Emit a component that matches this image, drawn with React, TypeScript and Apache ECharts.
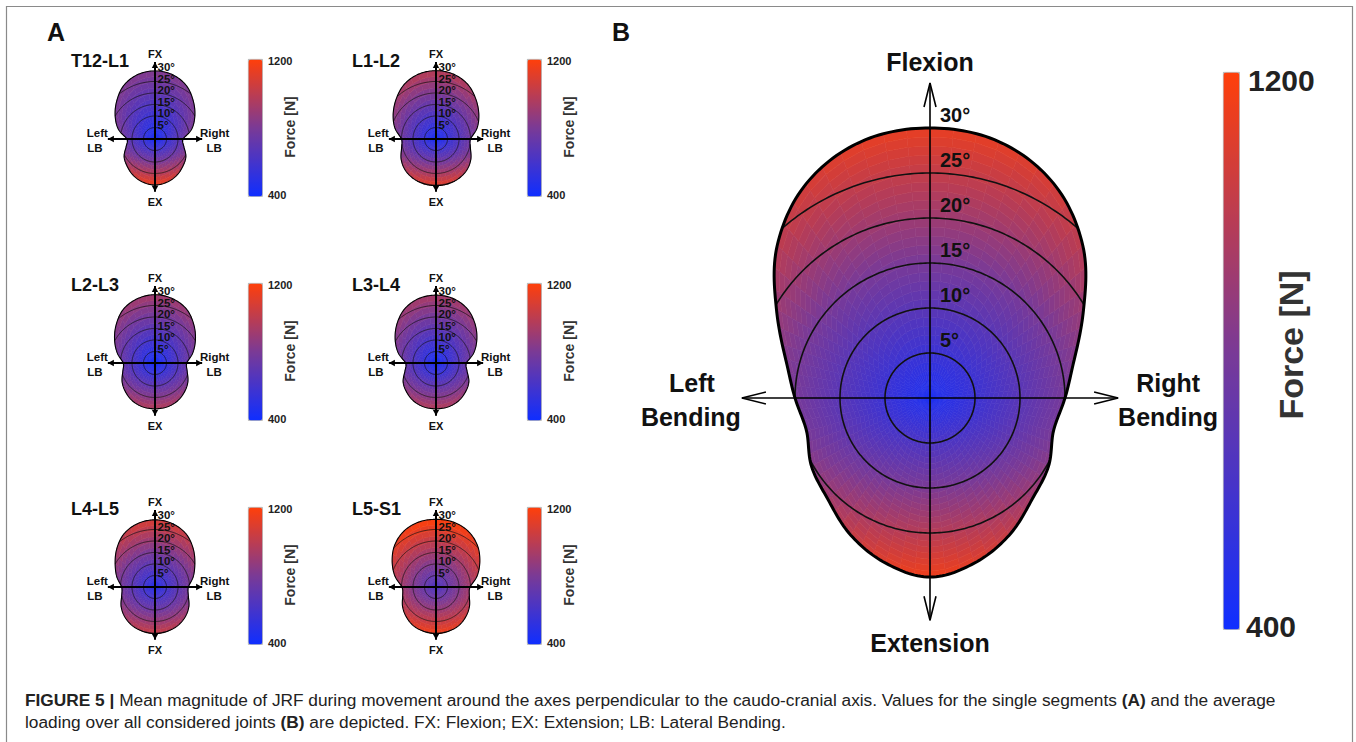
import React, { useEffect, useRef } from "react";
import * as echarts from "echarts";

// ---------------- data ----------------
const SEGMENTS = ["T12-L1", "L1-L2", "L2-L3", "L3-L4", "L4-L5", "L5-S1"];
const SEGMENT_BOTTOM_LABELS = ["EX", "EX", "EX", "EX", "FX", "FX"];
const DEGREE_TICKS = [5, 10, 15, 20, 25, 30];
const FORCE_MIN = 400;
const FORCE_MAX = 1200;
const COLORBAR_TICKS = ["1200", "400"];

// range of motion boundary (degrees) sampled at these elevation angles (90 = flexion, 0 = lateral bending, -90 = extension)
const BOUNDARY_ANGLES = [90, 75, 60, 45, 30, 15, 0, -15, -30, -45, -60, -75, -90];
const ROM_T12_L1 = [29.6, 29.0, 27.0, 23.5, 20.0, 16.5, 12.2, 13.0, 15.5, 17.0, 18.5, 19.5, 20.0];
const ROM_L1_L2 = [29.7, 29.2, 27.5, 24.5, 21.5, 18.5, 15.0, 15.5, 17.5, 19.0, 19.8, 20.2, 20.3];
const ROM_L2_L3 = [29.7, 29.0, 27.2, 23.8, 20.3, 17.0, 13.8, 14.5, 16.5, 18.0, 19.2, 19.8, 19.9];
const ROM_L3_L4 = [29.5, 29.0, 27.2, 24.0, 20.5, 17.0, 13.2, 14.0, 16.5, 18.0, 19.2, 19.8, 19.9];
const ROM_L4_L5 = [29.2, 28.6, 26.8, 23.5, 20.0, 17.2, 14.5, 15.0, 17.0, 18.5, 19.5, 20.0, 20.3];
const ROM_L5_S1 = [29.4, 29.2, 28.0, 25.5, 22.0, 18.5, 14.8, 15.0, 16.8, 18.3, 19.5, 20.0, 20.3];
const ROM_AVERAGE = [30.0, 29.5, 27.5, 24.0, 19.7, 16.6, 15.0, 14.2, 15.2, 16.0, 17.6, 19.0, 19.9];
const SEGMENT_ROMS = [ROM_T12_L1, ROM_L1_L2, ROM_L2_L3, ROM_L3_L4, ROM_L4_L5, ROM_L5_S1];

// joint reaction force (N): neutral, at max flexion, at max lateral bending, at max extension
const FORCE_NEUTRAL = [440, 440, 430, 440, 490, 630];
const FORCE_FLEXION = [830, 990, 930, 940, 1080, 1200];
const FORCE_LATERAL = [720, 760, 720, 720, 780, 920];
const FORCE_EXTENSION = [1150, 1110, 970, 970, 1030, 1160];
const AVERAGE_NEUTRAL_FLEX_LAT_EXT = [455, 1130, 790, 1150];

const COLOR_STOPS = ["#0f2eff", "#7a3a96", "#ff3f0a"];

// ---------------- helpers ----------------
const FONT = "'Liberation Sans', Arial, Helvetica, sans-serif";
const D2R = Math.PI / 180;

function elev(phi: number) {
  return Math.asin(Math.max(-1, Math.min(1, Math.sin(phi * D2R)))) / D2R;
}

function romAt(table: number[], e: number) {
  const n = table.length - 1;
  const step = 180 / n;
  let t = (90 - e) / step;
  let i = Math.floor(t);
  if (i >= n) i = n - 1;
  if (i < 0) i = 0;
  const f = t - i;
  const g = (k: number) => (k < 0 ? table[-k] : k > n ? table[2 * n - k] : table[k]);
  const p0 = g(i - 1), p1 = g(i), p2 = g(i + 1), p3 = g(i + 2);
  return 0.5 * (2 * p1 + (-p0 + p2) * f + (2 * p0 - 5 * p1 + 4 * p2 - p3) * f * f + (-p0 + 3 * p1 - 3 * p2 + p3) * f * f * f);
}

type Plot = {
  title?: string;
  bottomLabel: string;
  big: boolean;
  cx: number;
  cy: number;
  scale: number;
  rom: number[];
  f0: number;
  fFlex: number;
  fLat: number;
  fExt: number;
  nr: number;
  np: number;
  bar: { left: number; top: number; width: number; height: number };
};

function forceAt(p: Plot, r: number, e: number) {
  const s = Math.sin(e * D2R);
  const w = s * s;
  const rLat = p.rom[6];
  const fd = e >= 0 ? p.fLat * (1 - w) + p.fFlex * w : p.fLat * (1 - w) + p.fExt * w;
  const rd = e >= 0 ? rLat * (1 - w) + p.rom[0] * w : rLat * (1 - w) + p.rom[p.rom.length - 1] * w;
  const v = p.f0 + (fd - p.f0) * Math.pow(Math.max(0, r / rd), 1.0);
  return Math.max(FORCE_MIN, Math.min(FORCE_MAX, v));
}

function buildPlots(): Plot[] {
  const cols = [155, 436];
  const rows = [139, 363, 587];
  const barLeft = [248, 527];
  const barTop = [59, 283, 507];
  const plots: Plot[] = SEGMENTS.map((name, k) => {
    const col = k % 2;
    const row = Math.floor(k / 2);
    return {
      title: name,
      bottomLabel: SEGMENT_BOTTOM_LABELS[k],
      big: false,
      cx: cols[col],
      cy: rows[row],
      scale: 2.3,
      rom: SEGMENT_ROMS[k],
      f0: FORCE_NEUTRAL[k],
      fFlex: FORCE_FLEXION[k],
      fLat: FORCE_LATERAL[k],
      fExt: FORCE_EXTENSION[k],
      nr: 12,
      np: 48,
      bar: { left: barLeft[col], top: barTop[row], width: 14, height: 137 },
    };
  });
  plots.push({
    bottomLabel: "Extension",
    big: true,
    cx: 930,
    cy: 398,
    scale: 9,
    rom: ROM_AVERAGE,
    f0: AVERAGE_NEUTRAL_FLEX_LAT_EXT[0],
    fFlex: AVERAGE_NEUTRAL_FLEX_LAT_EXT[1],
    fLat: AVERAGE_NEUTRAL_FLEX_LAT_EXT[2],
    fExt: AVERAGE_NEUTRAL_FLEX_LAT_EXT[3],
    nr: 30,
    np: 72,
    bar: { left: 1223, top: 72, width: 16, height: 557 },
  });
  return plots;
}

function cellData(p: Plot) {
  const out: number[][] = [];
  for (let i = 0; i < p.nr; i++) {
    for (let j = 0; j < p.np; j++) {
      const u = (i + 0.5) / p.nr;
      const phi = ((j + 0.5) * 360) / p.np;
      const e = elev(phi);
      const r = u * romAt(p.rom, e);
      out.push([i, j, forceAt(p, r, e)]);
    }
  }
  return out;
}

function cellRender(p: Plot) {
  return (params: any, api: any) => {
    const i = api.value(0);
    const j = api.value(1);
    const u0 = i / p.nr, u1 = (i + 1) / p.nr;
    const a0 = (j * 360) / p.np, a1 = ((j + 1) * 360) / p.np;
    const pt = (u: number, a: number) => {
      const r = u * romAt(p.rom, elev(a));
      return api.coord([r * Math.cos(a * D2R), r * Math.sin(a * D2R)]);
    };
    const pts = i === 0 ? [pt(0, 0), pt(u1, a0), pt(u1, a1)] : [pt(u0, a0), pt(u1, a0), pt(u1, a1), pt(u0, a1)];
    const c = api.visual("color");
    return { type: "polygon", silent: true, shape: { points: pts }, style: { fill: c, stroke: c, lineWidth: 0.6 } };
  };
}

function contourRender(p: Plot) {
  return (params: any, api: any) => {
    const R = api.value(0);
    const children: any[] = [];
    let seg: number[][] = [];
    const lw = p.big ? 1.6 : 0.7;
    const flush = () => {
      if (seg.length > 1) children.push({ type: "polyline", silent: true, shape: { points: seg }, style: { stroke: "#111", lineWidth: lw, fill: "none" } });
      seg = [];
    };
    for (let a = -90; a <= 270; a += 1) {
      const b = romAt(p.rom, elev(a));
      if (R <= b + 0.05) seg.push(api.coord([R * Math.cos(a * D2R), R * Math.sin(a * D2R)]));
      else flush();
    }
    flush();
    const c = api.coord([0, R]);
    children.push({
      type: "text",
      silent: true,
      x: c[0] + (p.big ? 10 : 2.5),
      y: c[1] + (p.big ? -13 : -3),
      style: { text: R + "°", fill: "#111", font: `bold ${p.big ? 20 : 11.5}px ${FONT}`, align: "left", verticalAlign: "middle" },
    });
    return { type: "group", children };
  };
}

function outlineRender(p: Plot) {
  return (params: any, api: any) => {
    const pts: number[][] = [];
    for (let a = 0; a < 360; a += 1) {
      const r = romAt(p.rom, elev(a));
      pts.push(api.coord([r * Math.cos(a * D2R), r * Math.sin(a * D2R)]));
    }
    return { type: "polygon", silent: true, shape: { points: pts }, style: { fill: "none", stroke: "#000", lineWidth: p.big ? 3 : 1.1 } };
  };
}

function axesRender(p: Plot) {
  return (params: any, api: any) => {
    const X = p.big ? 20.9 : 20.5;
    const TOP = p.big ? 35 : 33.5;
    const BOT = p.big ? 24.7 : 22.9;
    const L = api.coord([-X, 0]), R = api.coord([X, 0]), T = api.coord([0, TOP]), B = api.coord([0, -BOT]);
    const lw = p.big ? 1.6 : 2;
    const children: any[] = [];
    const ln = (a: number[], b: number[]) => ({ type: "line", silent: true, shape: { x1: a[0], y1: a[1], x2: b[0], y2: b[1] }, style: { stroke: "#000", lineWidth: lw } });
    children.push(ln(L, R), ln(B, T));
    const head = (tip: number[], dx: number, dy: number) => {
      const h = p.big ? 24 : 6;
      const w = p.big ? 6 : 3.2;
      const bx = tip[0] - dx * h, by = tip[1] - dy * h;
      const nx = -dy, ny = dx;
      const p1 = [bx + nx * w, by + ny * w], p2 = [bx - nx * w, by - ny * w];
      if (p.big) return { type: "polyline", silent: true, shape: { points: [p1, tip, p2] }, style: { stroke: "#000", lineWidth: 1.6, fill: "none" } };
      return { type: "polygon", silent: true, shape: { points: [p1, tip, p2] }, style: { fill: "#000" } };
    };
    children.push(head(L, -1, 0), head(R, 1, 0), head(T, 0, -1), head(B, 0, 1));
    const txt = (s: string, x: number, y: number, size: number) => ({
      type: "text",
      silent: true,
      x,
      y,
      style: { text: s, fill: "#111", font: `bold ${size}px ${FONT}`, align: "center", verticalAlign: "middle" },
    });
    if (p.big) {
      children.push(txt("Flexion", T[0], T[1] - 21, 25));
      children.push(txt(p.bottomLabel, B[0], B[1] + 23, 25));
      children.push(txt("Left", L[0] - 50, L[1] - 15, 25));
      children.push(txt("Bending", L[0] - 51, L[1] + 19, 25));
      children.push(txt("Right", R[0] + 50, R[1] - 15, 25));
      children.push(txt("Bending", R[0] + 50, R[1] + 19, 25));
    } else {
      children.push(txt("FX", T[0], T[1] - 7.5, 11));
      children.push(txt(p.bottomLabel, B[0], B[1] + 10.5, 11));
      children.push(txt("Left", L[0] - 10.5, L[1] - 5.7, 11.5));
      children.push(txt("LB", L[0] - 13, L[1] + 8.7, 11.5));
      children.push(txt("Right", R[0] + 12.5, R[1] - 5.7, 11.5));
      children.push(txt("LB", R[0] + 12, R[1] + 8.7, 11.5));
    }
    return { type: "group", children };
  };
}

function buildOption() {
  const plots = buildPlots();
  const grid: any[] = [];
  const xAxis: any[] = [];
  const yAxis: any[] = [];
  const series: any[] = [];
  const visualMap: any[] = [];
  const graphic: any[] = [];

  plots.forEach((p, k) => {
    grid.push({ left: p.cx - 24 * p.scale, top: p.cy - 36 * p.scale, width: 48 * p.scale, height: 62 * p.scale, show: false });
    xAxis.push({ type: "value", gridIndex: k, min: -24, max: 24, show: false });
    yAxis.push({ type: "value", gridIndex: k, min: -26, max: 36, show: false });
    const cellIdx = series.length;
    series.push({ type: "custom", xAxisIndex: k, yAxisIndex: k, z: 1, silent: true, renderItem: cellRender(p), data: cellData(p), clip: false });
    series.push({ type: "custom", xAxisIndex: k, yAxisIndex: k, z: 2, silent: true, renderItem: contourRender(p), data: DEGREE_TICKS.map((d) => [d]), clip: false });
    series.push({ type: "custom", xAxisIndex: k, yAxisIndex: k, z: 3, silent: true, renderItem: outlineRender(p), data: [[0]], clip: false });
    series.push({ type: "custom", xAxisIndex: k, yAxisIndex: k, z: 4, silent: true, renderItem: axesRender(p), data: [[0]], clip: false });
    visualMap.push({
      type: "continuous",
      min: FORCE_MIN,
      max: FORCE_MAX,
      dimension: 2,
      seriesIndex: cellIdx,
      calculable: false,
      hoverLink: false,
      orient: "vertical",
      left: p.bar.left,
      top: p.bar.top,
      itemWidth: p.bar.width,
      itemHeight: p.bar.height,
      padding: 0,
      borderColor: "#a0a0a0",
      borderWidth: 0.8,
      inRange: { color: COLOR_STOPS },
    });
    const b = p.bar;
    const big = p.big;
    const tickSize = big ? 30 : 11;
    graphic.push({ type: "text", silent: true, x: b.left + b.width + (big ? 9 : 6), y: b.top + (big ? 8 : 2), style: { text: COLORBAR_TICKS[0], font: `bold ${tickSize}px ${FONT}`, fill: "#222", align: "left", verticalAlign: "middle" } });
    graphic.push({ type: "text", silent: true, x: b.left + b.width + (big ? 7 : 6), y: b.top + b.height + (big ? -3 : -1), style: { text: COLORBAR_TICKS[1], font: `bold ${tickSize}px ${FONT}`, fill: "#222", align: "left", verticalAlign: "middle" } });
    graphic.push({
      type: "text",
      silent: true,
      x: b.left + b.width + (big ? 52 : 27.5),
      y: big ? 345 : b.top + 68,
      rotation: Math.PI / 2,
      style: { text: "Force [N]", font: `bold ${big ? 34 : 14}px ${FONT}`, fill: "#333", align: "center", verticalAlign: "middle" },
    });
    if (p.title) {
      graphic.push({ type: "text", silent: true, x: p.cx - 84, y: p.cy - 78.5, style: { text: p.title, font: `bold 18px ${FONT}`, fill: "#111", align: "left", verticalAlign: "middle" } });
    }
  });

  graphic.unshift({ type: "rect", silent: true, shape: { x: 6.5, y: 6.5, width: 1346, height: 800 }, style: { fill: "#fff", stroke: "#8a8a8a", lineWidth: 1.2 }, z: -10 });
  graphic.push({ type: "text", silent: true, x: 56, y: 32, style: { text: "A", font: `bold 25px ${FONT}`, fill: "#111", align: "center", verticalAlign: "middle" } });
  graphic.push({ type: "text", silent: true, x: 621, y: 32, style: { text: "B", font: `bold 25px ${FONT}`, fill: "#111", align: "center", verticalAlign: "middle" } });

  const CAP = 17.3;
  const capStyle = { fontFamily: FONT, fontSize: CAP, fill: "#222" };
  const rich = { b: { fontFamily: FONT, fontSize: CAP, fontWeight: "bold", fill: "#222" }, n: { fontFamily: FONT, fontSize: CAP, fill: "#222" } };
  graphic.push({
    type: "text",
    silent: true,
    x: 25,
    y: 700,
    style: {
      ...capStyle,
      text: "{b|FIGURE 5 |}{n| Mean magnitude of JRF during movement around the axes perpendicular to the caudo-cranial axis. Values for the single segments }{b|(A)}{n| and the average}",
      rich,
      verticalAlign: "middle",
    },
  });
  graphic.push({
    type: "text",
    silent: true,
    x: 25,
    y: 722,
    style: {
      ...capStyle,
      text: "{n|loading over all considered joints }{b|(B)}{n| are depicted. FX: Flexion; EX: Extension; LB: Lateral Bending.}",
      rich,
      verticalAlign: "middle",
    },
  });

  return { animation: false, backgroundColor: "#ffffff", grid, xAxis, yAxis, series, visualMap, graphic };
}

export default function App() {
  const ref = useRef<HTMLDivElement>(null);
  useEffect(() => {
    document.body.style.margin = "0";
    const chart = echarts.init(ref.current as HTMLDivElement, null, { renderer: "svg" });
    chart.setOption(buildOption() as any);
    return () => chart.dispose();
  }, []);
  return <div ref={ref} style={{ width: 1356, height: 742 }} />;
}
